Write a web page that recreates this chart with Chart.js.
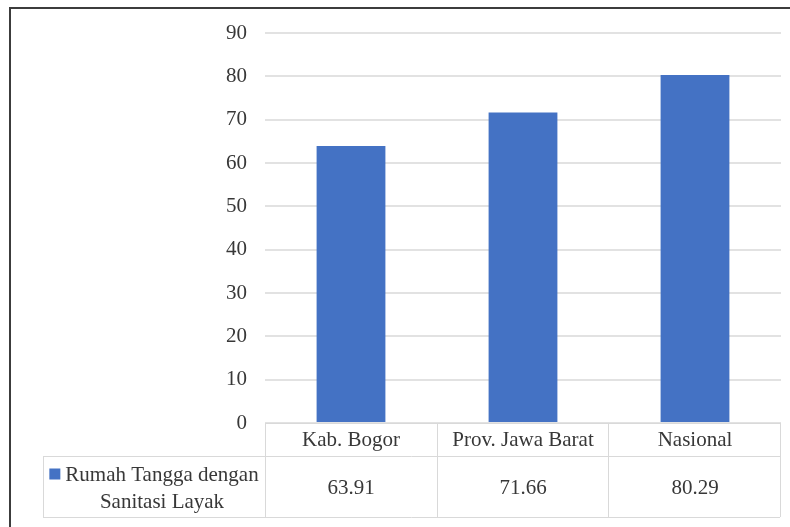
<!DOCTYPE html>
<html>
<head>
<meta charset="utf-8">
<script src="https://cdn.jsdelivr.net/npm/chart.js@4/dist/chart.umd.min.js"></script>
<style>
  html, body { margin: 0; padding: 0; background: #ffffff; }
  #wrap { width: 790px; height: 527px; position: relative; }
</style>
</head>
<body>
<div id="wrap"><canvas id="c" width="790" height="527"></canvas></div>
<script>
// Household sanitation access by region (percent)
const categories = ['Kab. Bogor', 'Prov. Jawa Barat', 'Nasional'];
const sanitasiLayak = [63.91, 71.66, 80.29];
const seriesLabel = ['Rumah Tangga dengan', 'Sanitasi Layak'];
const yMin = 0;
const yMax = 90;
const yStep = 10;

const FONT = '"Liberation Serif", "Times New Roman", serif';
const FONT_SIZE = 21;
const BAR_COLOR = '#4472C4';
const TEXT_COLOR = '#383838';
const LINE_COLOR = '#d9d9d9';

// Frame lines along the top and left edge of the figure
const framePlugin = {
  id: 'frame',
  beforeDraw(chart) {
    const ctx = chart.ctx;
    ctx.save();
    ctx.fillStyle = '#ffffff';
    ctx.fillRect(0, 0, chart.width, chart.height);
    ctx.strokeStyle = '#3c3c3c';
    ctx.lineWidth = 2;
    ctx.beginPath();
    ctx.moveTo(10, chart.height);
    ctx.lineTo(10, 8);
    ctx.lineTo(chart.width, 8);
    ctx.stroke();
    ctx.restore();
  }
};

// Data table under the plot: category header row plus one series row
const dataTablePlugin = {
  id: 'dataTable',
  afterDraw(chart) {
    const ctx = chart.ctx;
    const xs = chart.scales.x;
    const n = categories.length;
    const left = xs.left;
    const right = xs.right - 1;
    const colW = (right - left) / n;
    const top = chart.chartArea.bottom;
    const mid = top + 33;
    const bottom = top + 94;
    const legendLeft = 43;

    ctx.save();
    ctx.strokeStyle = LINE_COLOR;
    ctx.lineWidth = 1;
    const h = (x1, x2, y) => { ctx.beginPath(); ctx.moveTo(x1, Math.round(y) + 0.5); ctx.lineTo(x2, Math.round(y) + 0.5); ctx.stroke(); };
    const v = (x, y1, y2) => { ctx.beginPath(); ctx.moveTo(Math.round(x) + 0.5, y1); ctx.lineTo(Math.round(x) + 0.5, y2); ctx.stroke(); };

    h(left, right, top);
    h(legendLeft, right, mid);
    h(legendLeft, right, bottom);
    v(legendLeft, mid, bottom);
    for (let i = 0; i <= n; i++) {
      v(left + i * colW, top, bottom);
    }

    ctx.fillStyle = TEXT_COLOR;
    ctx.font = FONT_SIZE + 'px ' + FONT;
    ctx.textAlign = 'center';
    ctx.textBaseline = 'middle';
    for (let i = 0; i < n; i++) {
      const cx = xs.getPixelForValue(i);
      ctx.fillText(categories[i], cx, (top + mid) / 2 + 1);
      ctx.fillText(sanitasiLayak[i].toFixed(2), cx, (mid + bottom) / 2 + 2);
    }

    // Series legend cell: colour key followed by the two-line series name
    const keySize = 11;
    const gap = 5;
    const textW = Math.max(...seriesLabel.map(s => ctx.measureText(s).width));
    const blockW = keySize + gap + textW;
    const cellCx = (legendLeft + left) / 2;
    const startX = cellCx - blockW / 2;
    const textCx = startX + keySize + gap + textW / 2;
    const line1 = mid + 19;
    const line2 = mid + 46;
    ctx.fillStyle = BAR_COLOR;
    ctx.fillRect(startX, line1 - keySize / 2 - 1, keySize, keySize);
    ctx.fillStyle = TEXT_COLOR;
    ctx.fillText(seriesLabel[0], textCx, line1);
    ctx.fillText(seriesLabel[1], textCx, line2);
    ctx.restore();
  }
};

new Chart(document.getElementById('c'), {
  type: 'bar',
  data: {
    labels: categories,
    datasets: [{
      label: seriesLabel.join(' '),
      data: sanitasiLayak,
      backgroundColor: BAR_COLOR,
      borderWidth: 0,
      barPercentage: 0.4,
      categoryPercentage: 1.0
    }]
  },
  options: {
    responsive: false,
    animation: false,
    devicePixelRatio: 1,
    layout: { padding: { left: 0, right: 9, top: 33, bottom: 104 } },
    plugins: {
      legend: { display: false },
      tooltip: { enabled: false }
    },
    scales: {
      x: {
        display: false
      },
      y: {
        min: yMin,
        max: yMax,
        ticks: {
          stepSize: yStep,
          padding: 18,
          color: TEXT_COLOR,
          font: { family: FONT, size: FONT_SIZE }
        },
        grid: {
          color: '#e2e2e2',
          lineWidth: 2,
          drawTicks: false
        },
        border: { display: false },
        afterFit(scale) { scale.width = 265; }
      }
    }
  },
  plugins: [framePlugin, dataTablePlugin]
});
</script>
</body>
</html>
